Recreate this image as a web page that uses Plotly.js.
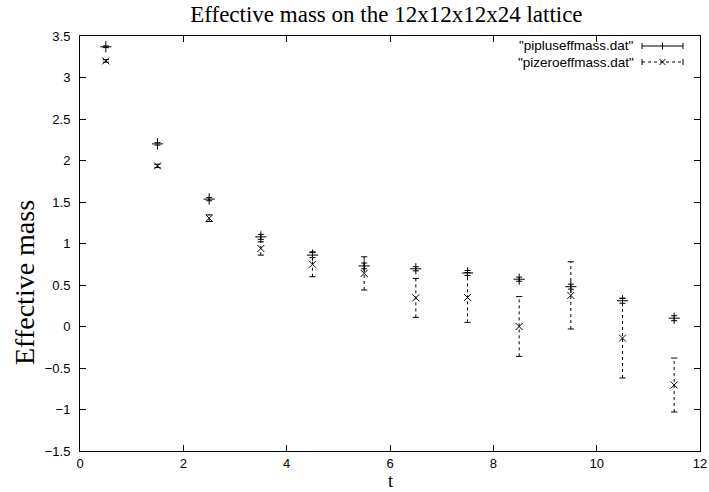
<!DOCTYPE html>
<html>
<head>
<meta charset="utf-8">
<script src="https://cdn.plot.ly/plotly-3.0.1.min.js"></script>
<style>html,body{margin:0;padding:0;background:#fff;}#chart{width:709px;height:492px;}</style>
</head>
<body>
<div id="chart"></div>
<script>
// Data
const t = [0.5, 1.5, 2.5, 3.5, 4.5, 5.5, 6.5, 7.5, 8.5, 9.5, 10.5, 11.5];
const piplus = [3.37, 2.20, 1.535, 1.08, 0.86, 0.73, 0.695, 0.645, 0.57, 0.48, 0.31, 0.10];
const piplusErr = [0.01, 0.015, 0.02, 0.03, 0.03, 0.035, 0.025, 0.03, 0.025, 0.03, 0.03, 0.03];
const pizero = [3.20, 1.935, 1.305, 0.94, 0.75, 0.64, 0.345, 0.35, 0.00, 0.375, -0.14, -0.705];
const pizeroErr = [0.015, 0.02, 0.04, 0.08, 0.15, 0.20, 0.235, 0.30, 0.36, 0.405, 0.48, 0.325];
const seriesNames = ['"pipluseffmass.dat"', '"pizeroeffmass.dat"'];
const titleText = 'Effective mass on the 12x12x12x24 lattice';
const xTitle = 't';
const yTitle = 'Effective mass';

// dashed error bars for the pizero series, built from the arrays
const capHalf = 0.06;
const barX = [], barY = [], capX = [], capY = [];
t.forEach((x, i) => {
  const lo = pizero[i] - pizeroErr[i], hi = pizero[i] + pizeroErr[i];
  barX.push(x, x, null); barY.push(lo, hi, null);
  capX.push(x - capHalf, x + capHalf, null, x - capHalf, x + capHalf, null);
  capY.push(lo, lo, null, hi, hi, null);
});

const traces = [
  {x: barX, y: barY, mode: 'lines', line: {color: '#000', width: 1, dash: '3px,3px'}, hoverinfo: 'skip', showlegend: false},
  {x: capX, y: capY, mode: 'lines', line: {color: '#000', width: 1}, hoverinfo: 'skip', showlegend: false},
  {x: t, y: pizero, mode: 'markers', name: seriesNames[1], showlegend: false,
   marker: {symbol: 'x-thin-open', size: 7, color: '#000', line: {color: '#000', width: 1}}},
  {x: t, y: piplus, mode: 'markers', name: seriesNames[0], showlegend: false,
   error_y: {type: 'data', array: piplusErr, visible: true, color: '#000', thickness: 1, width: 3},
   marker: {symbol: 'cross-thin-open', size: 8, color: '#000', line: {color: '#000', width: 1}}}
];

// Legend drawn manually in gnuplot style (paper coordinates)
const L = 80, R = 700, T = 36, B = 451;
const px = v => (v - L) / (R - L);
const py = v => (B - v) / (B - T);
const shapes = [];
const annotations = [];
const rows = [46, 62];
rows.forEach((ry, k) => {
  annotations.push({xref: 'paper', yref: 'paper', x: px(636), y: py(ry), xanchor: 'right', yanchor: 'middle',
    text: seriesNames[k], showarrow: false, font: {family: 'Liberation Sans, Arial, sans-serif', size: 13.5, color: '#000'}});
  shapes.push({type: 'line', xref: 'paper', yref: 'paper', x0: px(642), x1: px(683), y0: py(ry), y1: py(ry),
    line: {color: '#000', width: 1, dash: k === 0 ? 'solid' : '3px,3px'}});
  [642, 683].forEach(cx => shapes.push({type: 'line', xref: 'paper', yref: 'paper', x0: px(cx), x1: px(cx),
    y0: py(ry - 3), y1: py(ry + 3), line: {color: '#000', width: 1}}));
  const mx = 662.5;
  if (k === 0) {
    shapes.push({type: 'line', xref: 'paper', yref: 'paper', x0: px(mx), x1: px(mx), y0: py(ry - 3.5), y1: py(ry + 3.5), line: {color: '#000', width: 1}});
  } else {
    shapes.push({type: 'line', xref: 'paper', yref: 'paper', x0: px(mx - 3), x1: px(mx + 3), y0: py(ry - 3), y1: py(ry + 3), line: {color: '#000', width: 1}});
    shapes.push({type: 'line', xref: 'paper', yref: 'paper', x0: px(mx - 3), x1: px(mx + 3), y0: py(ry + 3), y1: py(ry - 3), line: {color: '#000', width: 1}});
  }
});

// axis titles placed as annotations (gnuplot-like positions)
annotations.push({xref: 'paper', yref: 'paper', x: px(24), y: py(283), xanchor: 'center', yanchor: 'middle',
  textangle: -90, text: yTitle, showarrow: false,
  font: {family: 'Liberation Serif, Times New Roman, serif', size: 28, color: '#000'}});
annotations.push({xref: 'paper', yref: 'paper', x: px(391), y: py(492), xanchor: 'center', yanchor: 'bottom',
  text: xTitle, showarrow: false, borderpad: 0,
  font: {family: 'Liberation Serif, Times New Roman, serif', size: 18.5, color: '#000'}});

const axisCommon = {
  showgrid: false, zeroline: false, showline: true, linecolor: '#000', linewidth: 1,
  mirror: 'ticks', ticks: 'inside', ticklen: 6, tickcolor: '#000', tickwidth: 1,
  tickfont: {family: 'Liberation Sans, Arial, sans-serif', size: 13, color: '#000'}
};

const layout = {
  width: 709, height: 492,
  margin: {l: L, r: 709 - R, t: T, b: 492 - B},
  paper_bgcolor: '#fff', plot_bgcolor: '#fff',
  showlegend: false,
  title: {text: titleText, x: 0.545, xanchor: 'center', y: 0.972, yanchor: 'middle',
    font: {family: 'Liberation Serif, Times New Roman, serif', size: 23, color: '#000'}},
  xaxis: Object.assign({}, axisCommon, {range: [0, 12], dtick: 2, tick0: 0, ticklabelstandoff: 0}),
  yaxis: Object.assign({}, axisCommon, {range: [-1.5, 3.5], dtick: 0.5, tick0: 0, ticklabelstandoff: 6}),
  shapes: shapes,
  annotations: annotations
};

Plotly.newPlot('chart', traces, layout, {displayModeBar: false, staticPlot: true});
</script>
</body>
</html>
